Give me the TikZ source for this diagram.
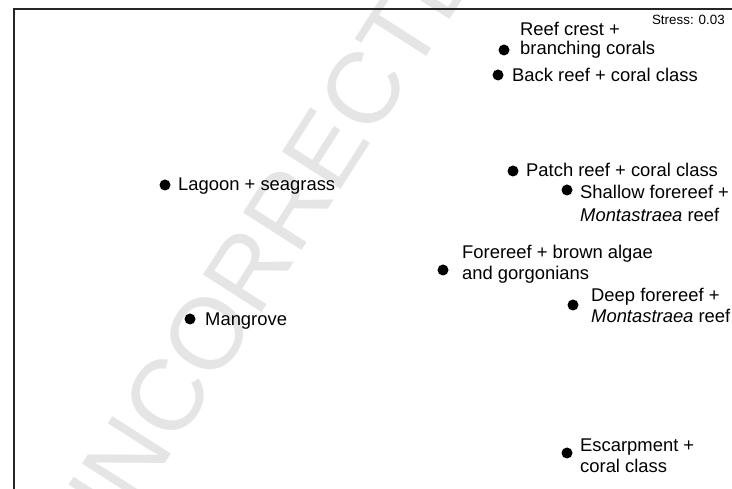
\documentclass[tikz,border=0pt]{standalone}
\usepackage{fontspec}
\setmainfont{Liberation Sans}

\tikzset{
  site/.style={circle, draw=none, fill=black, inner sep=0pt, minimum size=11pt},
  sitelbl/.style={anchor=base west, inner sep=0pt, align=left, font=\fontsize{18.4}{21}\selectfont},
}

\begin{document}
\begin{tikzpicture}[x=1pt, y=-1pt]
\useasboundingbox (0,0) rectangle (732,489);
\begin{scope}
\clip (0,0) rectangle (732,489);
\node [rotate=57.4, text=black!10, inner sep=0pt, font=\fontsize{101}{101}\selectfont] (wmark) at (280,220) {UNCORRECTED};
\end{scope}
\draw [line width=2pt, black!85] (13.5,489) -- (13.5,9.5) -- (732,9.5);

\node [anchor=base east, inner sep=0pt, font=\fontsize{13.4}{15}\selectfont] (stress) at (725,25) {Stress: 0.03};

\node [site] (crest) at (504,50) {};
\node [site] (back) at (498,75) {};
\node [site] (patch) at (513,171) {};
\node [site] (shallow) at (567,190) {};
\node [site] (fore) at (443,270) {};
\node [site] (deep) at (573,305) {};
\node [site] (lagoon) at (165,185) {};
\node [site] (mangrove) at (190,319) {};
\node [site] (escarp) at (567,453) {};

% two-line labels sit on their last baseline
\node [sitelbl, font=\fontsize{18.4}{19}\selectfont] (crest-l) at (520,55) {Reef crest +\\branching corals};
\node [sitelbl] (back-l) at (512,82) {Back reef + coral class};
\node [sitelbl] (patch-l) at (526,177) {Patch reef + coral class};
\node [sitelbl, font=\fontsize{18.4}{23}\selectfont] (shallow-l) at (580,222) {Shallow forereef +\\\textit{Montastraea} reef};
\node [sitelbl] (fore-l) at (462,280) {Forereef + brown algae\\and gorgonians};
\node [sitelbl] (deep-l) at (591,323) {Deep forereef +\\\textit{Montastraea} reef};
\node [sitelbl] (lagoon-l) at (178,191) {Lagoon + seagrass};
\node [sitelbl] (mangrove-l) at (205,326) {Mangrove};
\node [sitelbl] (escarp-l) at (580,472) {Escarpment +\\coral class};
\end{tikzpicture}
\end{document}
